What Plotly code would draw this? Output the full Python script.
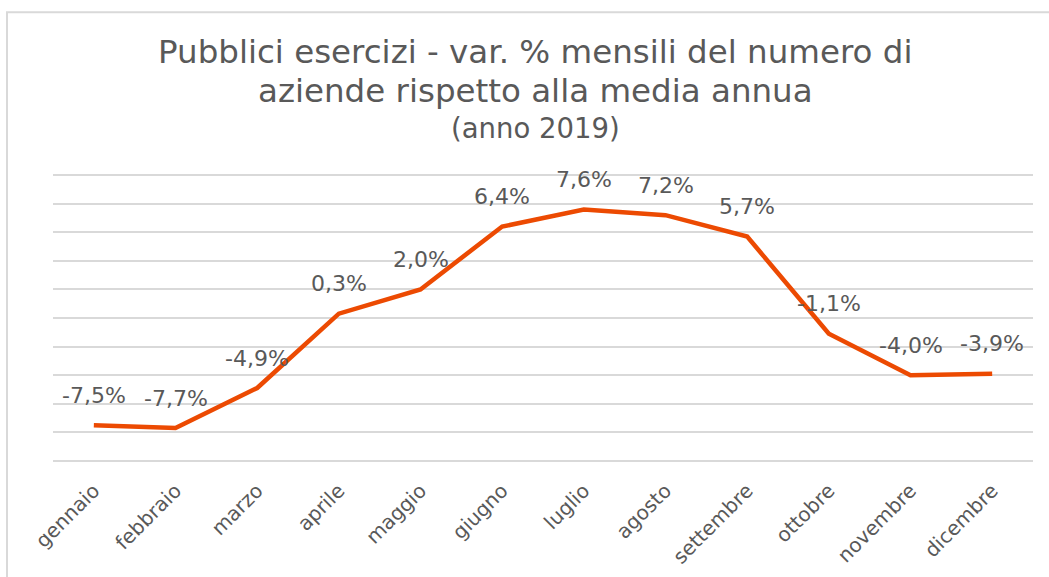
import plotly.graph_objects as go

months = ["gennaio", "febbraio", "marzo", "aprile", "maggio", "giugno",
          "luglio", "agosto", "settembre", "ottobre", "novembre", "dicembre"]
values = [-7.5, -7.7, -4.9, 0.3, 2.0, 6.4, 7.6, 7.2, 5.7, -1.1, -4.0, -3.9]
grid_vals = list(range(-10, 11, 2))

W, H = 1049, 577
# plot area: y=+10 at 175px, y=-10 at 461px; extend range by 0.5 so edge gridlines show
unit = (461 - 175) / 20
L, R = 53, 16
T = 175 - 0.5 * unit
B = H - (461 + 0.5 * unit)
pw, ph = W - L - R, H - T - B

def px(x):
    return (x - L) / pw

def py(y):
    return (H - B - y) / ph

grey = "#595959"
fig = go.Figure()
fig.add_trace(go.Scatter(
    x=list(range(len(months))), y=values, mode="lines",
    line=dict(color="#EC4A02", width=4.5), hoverinfo="skip", showlegend=False,
))

for i, v in enumerate(values):
    fig.add_annotation(x=i, y=v, text=f"{v:.1f}%".replace(".", ","),
                       showarrow=False, yshift=30, xanchor="center", yanchor="middle",
                       font=dict(family="DejaVu Sans", size=22, color=grey))

titles = [("Pubblici esercizi - var. % mensili del numero di", 52, 32.5),
          ("aziende rispetto alla media annua", 91, 32.5),
          ("(anno 2019)", 128, 27.5)]
for txt, yy, sz in titles:
    fig.add_annotation(xref="paper", yref="paper", x=px(535), y=py(yy),
                       xanchor="center", yanchor="middle", text=txt, showarrow=False,
                       font=dict(family="DejaVu Sans", size=sz, color=grey))

fig.add_shape(type="rect", xref="paper", yref="paper",
              x0=px(7), x1=px(1070), y0=py(600), y1=py(12),
              line=dict(color="#D9D9D9", width=2), layer="below")

fig.update_layout(
    width=W, height=H,
    margin=dict(l=L, r=R, t=T, b=B, autoexpand=False),
    paper_bgcolor="white", plot_bgcolor="white",
    xaxis=dict(tickmode="array", tickvals=list(range(len(months))), ticktext=months,
               range=[-0.5, len(months) - 0.5], tickangle=-45, showgrid=False,
               zeroline=False, showline=False, ticklabelstandoff=6, automargin=False,
               tickfont=dict(family="DejaVu Sans", size=20, color=grey)),
    yaxis=dict(range=[-10.5, 10.5], tickvals=grid_vals, showticklabels=False,
               automargin=False,
               gridcolor="#D9D9D9", gridwidth=1.5, zeroline=False, showline=False),
)

fig.write_html("out.html", config={"displayModeBar": False},
               post_script="document.body.style.margin='0';")
